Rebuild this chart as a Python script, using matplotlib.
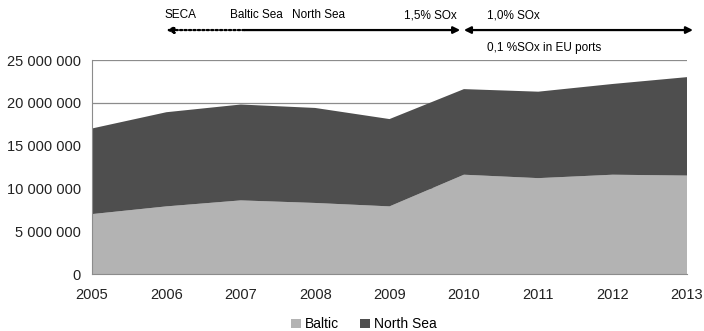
import matplotlib.pyplot as plt
from matplotlib.ticker import FuncFormatter

plt.rcParams['font.family'] = ['Liberation Sans', 'DejaVu Sans']

years = [2005, 2006, 2007, 2008, 2009, 2010, 2011, 2012, 2013]
baltic = [7.0, 7.9, 8.6, 8.3, 7.9, 11.6, 11.2, 11.6, 11.5]
total = [17.0, 18.9, 19.8, 19.4, 18.1, 21.6, 21.3, 22.2, 23.0]
north_sea = [t - b for t, b in zip(total, baltic)]

# scale to units
baltic_v = [v * 1e6 for v in baltic]
north_v = [v * 1e6 for v in north_sea]

fig = plt.figure(figsize=(7.04, 3.31), dpi=100)
ax = fig.add_axes([0.1307, 0.1722, 0.8452, 0.6465])

ax.yaxis.grid(True, color='#8c8c8c', linewidth=0.9, zorder=0)
ax.set_axisbelow(True)
ax.stackplot(years, baltic_v, north_v, colors=['#b3b3b3', '#4e4e4e'],
             labels=['Baltic', 'North Sea'], zorder=2)

ax.set_xlim(2005, 2013)
ax.set_ylim(0, 25e6)
ax.set_xticks(years)
ax.set_yticks(range(0, 25000001, 5000000))
ax.yaxis.set_major_formatter(FuncFormatter(lambda v, p: f"{int(v):,}".replace(',', ' ')))
ax.tick_params(length=0, labelsize=10.5, colors='#222222')
ax.tick_params(axis='x', pad=10)
ax.tick_params(axis='y', pad=8)
for s in ['top', 'right']:
    ax.spines[s].set_visible(False)
for s in ['left', 'bottom']:
    ax.spines[s].set_color('#8c8c8c')

# regulation timeline above the plot
ya = 1.14
arrow = dict(lw=1.6, color='black', mutation_scale=10, shrinkA=0, shrinkB=0)
ax.annotate('', xy=(2006.0, ya), xytext=(2007.05, ya), xycoords=('data', 'axes fraction'),
            arrowprops=dict(arrowstyle='-|>', linestyle=(0, (1, 1)), **arrow),
            annotation_clip=False)
ax.annotate('', xy=(2009.95, ya), xytext=(2007.05, ya), xycoords=('data', 'axes fraction'),
            arrowprops=dict(arrowstyle='-|>', **arrow), annotation_clip=False)
ax.annotate('', xy=(2013.08, ya), xytext=(2010.0, ya), xycoords=('data', 'axes fraction'),
            arrowprops=dict(arrowstyle='<|-|>', **arrow), annotation_clip=False)

labels = [(2005.98, 'SECA'), (2006.85, 'Baltic Sea'), (2007.69, 'North Sea'),
          (2009.2, '1,5% SOx'), (2010.31, '1,0% SOx')]
for x, t in labels:
    ax.text(x, 1.21, t, transform=ax.get_xaxis_transform(), fontsize=8.5,
            ha='left', va='center', clip_on=False)
ax.text(2010.31, 1.055, '0,1 %SOx in EU ports', transform=ax.get_xaxis_transform(),
        fontsize=8.5, ha='left', va='center', clip_on=False)

ax.legend(loc='center', bbox_to_anchor=(0.457, -0.235), ncol=2, frameon=False,
          fontsize=10, handlelength=0.7, handleheight=0.7, handletextpad=0.3,
          columnspacing=1.5)

fig.savefig('out.png', dpi=100)
